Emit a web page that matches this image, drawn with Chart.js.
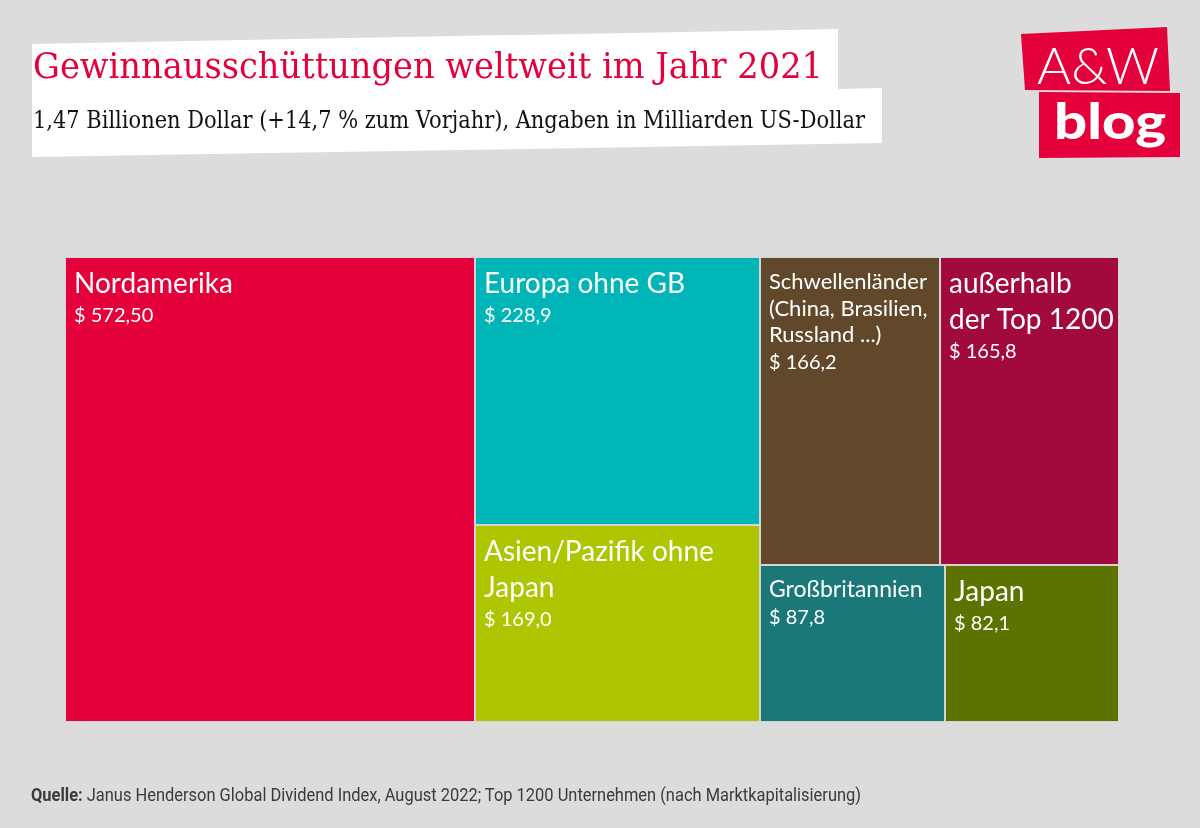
<!DOCTYPE html>
<html>
<head>
<meta charset="utf-8">
<script src="https://cdn.jsdelivr.net/npm/chart.js@4.4.1/dist/chart.umd.min.js"></script>
<style>
  html, body { margin: 0; padding: 0; background: #dcdcdc; }
  #wrap { position: relative; width: 1200px; height: 828px; overflow: hidden; }
  #chartCanvas { position: absolute; left: 0; top: 0; }
  .shape { position: absolute; left: 0; top: 0; width: 1200px; height: 828px; }
  .txt { position: absolute; white-space: nowrap; transform-origin: 0 0; }
  #title { left: 33px; top: 46px; font-family: "DejaVu Serif", serif; font-size: 35px; color: #e4003a; }
  #subtitle { left: 33px; top: 106px; font-family: "DejaVu Serif", serif; font-size: 24px; color: #111; }
  #source { left: 31px; top: 784px; font-family: "Liberation Sans Narrow", "Roboto", sans-serif; font-size: 18px; color: #3a3a3a; }
  #logo1 { left: 1037px; top: 33px; font-family: "Lato", "Open Sans", sans-serif; font-weight: 300; font-size: 52px; color: #fff; }
  #logo2 { left: 1054px; top: 90px; font-family: "Lato", "Open Sans", sans-serif; font-weight: 900; font-size: 50px; color: #fff; }
</style>
</head>
<body>
<div id="wrap">
  <div class="shape" style="background:#fff; clip-path: polygon(32px 44px, 838px 29px, 838px 89px, 882px 88px, 882px 143px, 32px 157px);"></div>
  <div class="shape" style="background:#e4003a; clip-path: polygon(1021px 34px, 1167px 27px, 1170px 91px, 1025px 90px);"></div>
  <div class="shape" style="background:#e4003a; clip-path: polygon(1039px 92px, 1180px 93px, 1180px 157px, 1039px 158px);"></div>
  <canvas id="chartCanvas" width="1200" height="828"></canvas>
  <div id="title" class="txt" data-w="790">Gewinnausschüttungen weltweit im Jahr 2021</div>
  <div id="subtitle" class="txt" data-w="832">1,47 Billionen Dollar (+14,7 % zum Vorjahr), Angaben in Milliarden US-Dollar</div>
  <div id="source" class="txt" data-w="830"><b>Quelle:</b> Janus Henderson Global Dividend Index, August 2022; Top 1200 Unternehmen (nach Marktkapitalisierung)</div>
  <div id="logo1" class="txt" data-w="122">A&amp;W</div>
  <div id="logo2" class="txt" data-w="112">blog</div>
</div>
<script>
// Dividend payouts 2021 by region, billion USD
const regions = [
    ["Nordamerika"],
    ["Europa ohne GB"],
    ["Asien/Pazifik ohne", "Japan"],
    ["Schwellenländer", "(China, Brasilien,", "Russland ...)"],
    ["außerhalb", "der Top 1200"],
    ["Großbritannien"],
    ["Japan"]
];
const values = [572.5, 228.9, 169.0, 166.2, 165.8, 87.8, 82.1];
const valueLabels = ["$ 572,50", "$ 228,9", "$ 169,0", "$ 166,2", "$ 165,8", "$ 87,8", "$ 82,1"];

// treemap grouping: columns -> rows -> cell indexes
const layout = [
    [[0]],
    [[1], [2]],
    [[3, 4], [5, 6]]
];

const colors = ["#e4003a", "#00b5b8", "#aec600", "#61482a", "#a20a3f", "#1b7878", "#5d7300"];
const labelSizes = [28, 28, 28, 22, 28, 23, 28];

// fit the html text lines to the widths of the original
document.querySelectorAll('.txt').forEach(function (el) {
    var w = el.getBoundingClientRect().width;
    el.style.transform = 'scaleX(' + (parseFloat(el.dataset.w) / w) + ')';
});

const total = values.reduce((a, b) => a + b, 0);
const sum = idx => idx.reduce((a, i) => a + values[i], 0);

// rectangles in data units: x in value units, y as share 0..1
var rects = [];
var x = 0;
layout.forEach(function (col) {
    var colSum = col.reduce((a, row) => a + sum(row), 0);
    var colW = colSum;               // width of column in x units
    var y = 0;
    col.forEach(function (row) {
        var rowSum = sum(row);
        var rowH = rowSum / colSum;
        var cx = x;
        row.forEach(function (i) {
            var w = values[i] / rowSum * colW;
            rects[i] = {x0: cx, x1: cx + w, y0: y, y1: y + rowH};
            cx += w;
        });
        y += rowH;
    });
    x += colW;
});

const points = rects.map(r => ({x: (r.x0 + r.x1) / 2, y: (r.y0 + r.y1) / 2}));

const treemapPlugin = {
    id: 'treemapCells',
    beforeDatasetsDraw(chart) {
        const ctx = chart.ctx;
        const xs = chart.scales.x, ys = chart.scales.y;
        ctx.save();
        rects.forEach(function (r, i) {
            var px0 = Math.round(xs.getPixelForValue(r.x0));
            var px1 = Math.round(xs.getPixelForValue(r.x1));
            var py0 = Math.round(ys.getPixelForValue(r.y0));
            var py1 = Math.round(ys.getPixelForValue(r.y1));
            ctx.fillStyle = colors[i];
            ctx.fillRect(px0, py0, px1 - px0, py1 - py0);
            ctx.strokeStyle = '#d4d4d4';
            ctx.lineWidth = 1;
            ctx.strokeRect(px0 + 0.5, py0 + 0.5, px1 - px0 - 1, py1 - py0 - 1);

            var size = labelSizes[i];
            var big = size >= 26;
            var lineH = big ? 36 : 26.5;
            var by = py0 + (big ? 36 : 32);
            ctx.fillStyle = '#ffffff';
            ctx.textBaseline = 'alphabetic';
            ctx.font = size + 'px Lato, "Open Sans", sans-serif';
            regions[i].forEach(function (line, k) {
                ctx.fillText(line, px0 + 9, by + k * lineH);
            });
            var vy = by + (regions[i].length - 1) * lineH + (big ? 29 : 27);
            ctx.font = '20px Lato, "Open Sans", sans-serif';
            ctx.fillText(valueLabels[i], px0 + 9, vy);
        });
        ctx.restore();
    }
};

new Chart(document.getElementById('chartCanvas'), {
    type: 'scatter',
    data: {
        datasets: [{
            label: 'Gewinnausschüttungen',
            data: points,
            pointRadius: 0,
            pointHoverRadius: 0
        }]
    },
    options: {
        responsive: false,
        animation: false,
        layout: {padding: {left: 65, top: 257, right: 81, bottom: 106}},
        plugins: {legend: {display: false}, tooltip: {enabled: false}},
        scales: {
            x: {type: 'linear', min: 0, max: total, display: false},
            y: {type: 'linear', min: 0, max: 1, reverse: true, display: false}
        }
    },
    plugins: [treemapPlugin]
});
</script>
</body>
</html>
